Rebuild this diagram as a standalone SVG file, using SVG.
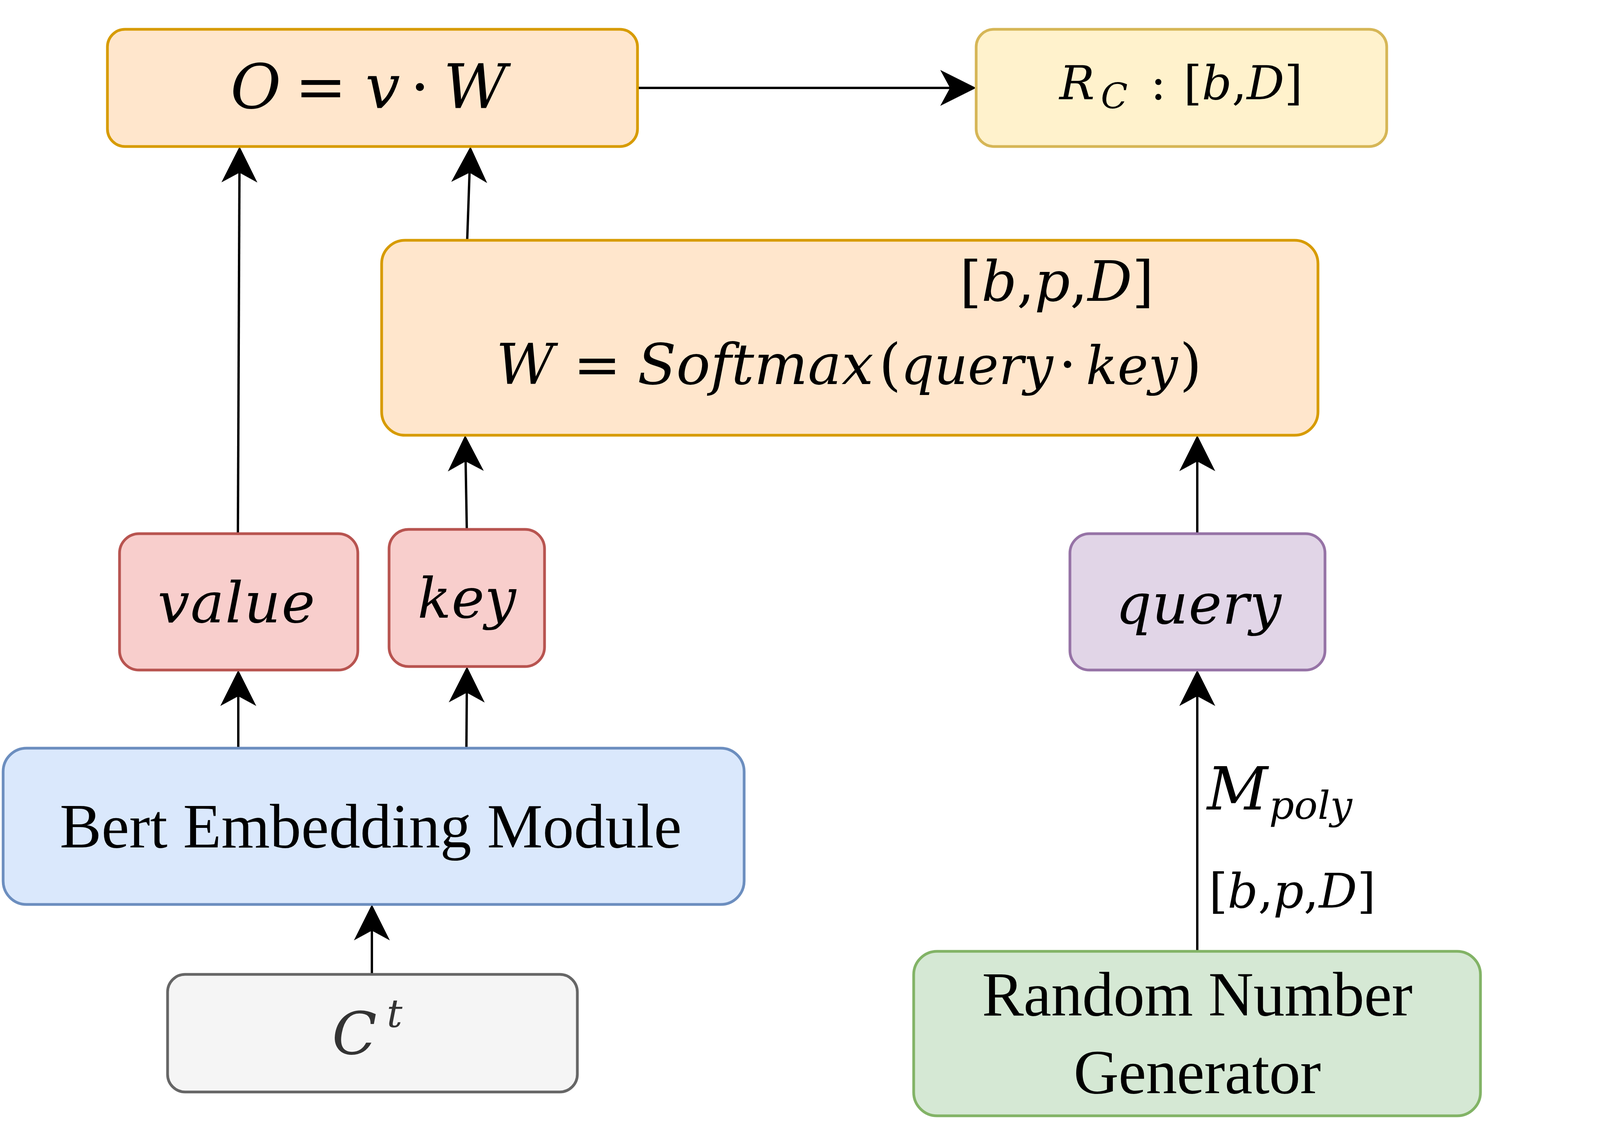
<svg xmlns="http://www.w3.org/2000/svg" width="4780" height="2900" viewBox="0 0 4780 2900">
<defs>
<style>
.box{stroke-width:7}
.orange{fill:#ffe6cc;stroke:#d79b00}
.yellow{fill:#fff2cc;stroke:#d6b656}
.red{fill:#f8cecc;stroke:#b85450}
.purple{fill:#e1d5e7;stroke:#9673a6}
.blue{fill:#dae8fc;stroke:#6c8ebf}
.gray{fill:#f5f5f5;stroke:#666666}
.green{fill:#d5e8d4;stroke:#82b366}
.math{font-family:"DejaVu Serif","Liberation Serif",serif;fill:#000}
.it{font-style:italic}
.up{font-style:normal}
.txt{font-family:"Liberation Serif","Times New Roman",serif;fill:#000}
.edge{fill:none;stroke:#000;stroke-width:6}
</style>
<marker id="arr" markerUnits="userSpaceOnUse" viewBox="-30 -50 100 100" markerWidth="100" markerHeight="100" refX="0" refY="0" orient="auto" overflow="visible">
<path d="M67,0 L-25,-46 L0,0 L-25,46 Z" fill="#000"/>
</marker>
</defs>
<rect width="4780" height="2900" fill="#ffffff"/>

<g id="connectors">
<path class="edge" d="M609,1366 L613,442" marker-end="url(#arr)"/>
<path class="edge" d="M1196,615 L1202,442" marker-end="url(#arr)"/>
<path class="edge" d="M1195,1355 L1192,1181" marker-end="url(#arr)"/>
<path class="edge" d="M3065,1366 L3065,1181" marker-end="url(#arr)"/>
<path class="edge" d="M610,1915 L610,1782" marker-end="url(#arr)"/>
<path class="edge" d="M1194,1915 L1195,1773" marker-end="url(#arr)"/>
<path class="edge" d="M952,2494 L952,2382" marker-end="url(#arr)"/>
<path class="edge" d="M3065,2435 L3065,1782" marker-end="url(#arr)"/>
<path class="edge" d="M1632,225 L2432,225" marker-end="url(#arr)"/>
<text class="math" y="2072" font-size="152"><tspan class="it" x="3090">M</tspan><tspan class="it" font-size="100" x="3249" y="2096">poly</tspan></text>
<text class="math" x="3095" y="2323" font-size="122"><tspan class="up">[</tspan><tspan class="it">b</tspan><tspan class="up">,</tspan><tspan class="it">p</tspan><tspan class="up">,</tspan><tspan class="it">D</tspan><tspan class="up">]</tspan></text>
</g>

<g id="node-output">
<rect class="box orange" x="275" y="75" width="1357" height="300" rx="45"/>
<text class="math" y="277" font-size="158"><tspan class="it" x="590">O</tspan><tspan class="up" x="755">=</tspan><tspan class="it" x="935">v</tspan><tspan class="up" x="1050">·</tspan><tspan class="it" x="1135">W</tspan></text>
</g>

<g id="node-rc">
<rect class="box yellow" x="2499" y="75" width="1051" height="300" rx="45"/>
<text class="math" y="254" font-size="120"><tspan class="it" x="2712">R</tspan><tspan class="it" font-size="90" x="2818" y="277">C</tspan><tspan class="up" x="2945" y="254">:</tspan><tspan class="up" x="3030">[</tspan><tspan class="it">b</tspan><tspan class="up">,</tspan><tspan class="it">D</tspan><tspan class="up">]</tspan></text>
</g>

<g id="node-softmax">
<rect class="box orange" x="977" y="615" width="2397" height="499" rx="60"/>
<text class="math" x="2457" y="770" font-size="142"><tspan class="up">[</tspan><tspan class="it">b</tspan><tspan class="up">,</tspan><tspan class="it">p</tspan><tspan class="up">,</tspan><tspan class="it">D</tspan><tspan class="up">]</tspan></text>
<text class="math" y="983" font-size="145"><tspan class="it" x="1270">W</tspan><tspan class="up" x="1468">=</tspan><tspan class="it" x="1632">Softmax</tspan><tspan class="up" x="2250">(</tspan><tspan class="it" x="2306" font-size="136" textLength="390" lengthAdjust="spacingAndGlyphs">query</tspan><tspan class="up" x="2710">·</tspan><tspan class="it" x="2780" font-size="134" textLength="235" lengthAdjust="spacingAndGlyphs">key</tspan><tspan class="up" x="3020">)</tspan></text>
</g>

<g id="node-value">
<rect class="box red" x="306" y="1366" width="610" height="349" rx="50"/>
<text class="math it" x="605" y="1593" font-size="145" text-anchor="middle" textLength="403" lengthAdjust="spacing">value</text>
</g>

<g id="node-key">
<rect class="box red" x="996" y="1355" width="398" height="351" rx="50"/>
<text class="math it" x="1195" y="1581" font-size="142" text-anchor="middle" textLength="252" lengthAdjust="spacing">key</text>
</g>

<g id="node-query">
<rect class="box purple" x="2739" y="1366" width="653" height="349" rx="50"/>
<text class="math it" x="3068" y="1596" font-size="144" text-anchor="middle" textLength="424" lengthAdjust="spacing">query</text>
</g>

<g id="node-bert">
<rect class="box blue" x="8" y="1915" width="1897" height="400" rx="60"/>
<text class="txt" x="949" y="2169" font-size="160" text-anchor="middle" textLength="1592" lengthAdjust="spacing">Bert Embedding Module</text>
</g>

<g id="node-ct">
<rect class="box gray" x="429" y="2494" width="1049" height="301" rx="45"/>
<text class="math" y="2698" font-size="150" style="fill:#333333"><tspan class="it" x="850">C</tspan><tspan class="it" font-size="100" x="990" y="2629">t</tspan></text>
</g>

<g id="node-rng">
<rect class="box green" x="2339" y="2435" width="1451" height="421" rx="60"/>
<text class="txt" x="3065" y="2599" font-size="160" text-anchor="middle" textLength="1102" lengthAdjust="spacing">Random Number</text>
<text class="txt" x="3065" y="2798" font-size="160" text-anchor="middle" textLength="633" lengthAdjust="spacing">Generator</text>
</g>
</svg>
